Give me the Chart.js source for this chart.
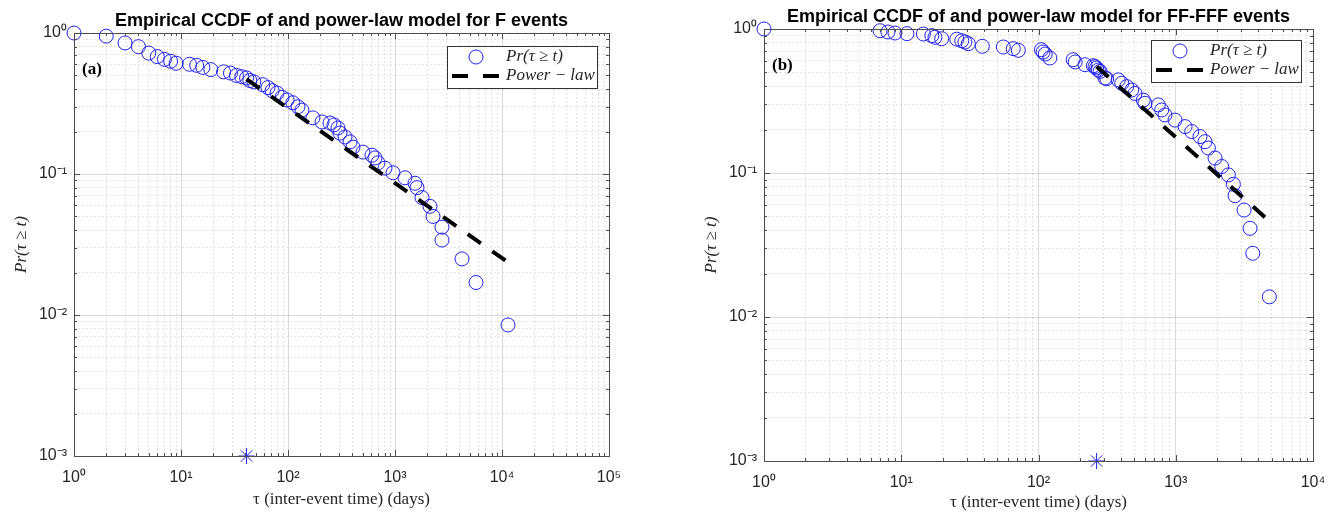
<!DOCTYPE html>
<html lang="en">
<head>
<meta charset="UTF-8">
<title>Empirical CCDF and power-law model</title>
<script src="https://cdn.jsdelivr.net/npm/chart.js"></script>
<style>
  body { margin: 0; background: #fff; }
  .panel { position: absolute; top: 0; width: 668px; height: 516px; }
</style>
</head>
<body>
<div class="panel" style="left:0"><canvas id="chartF" width="668" height="516"></canvas></div>
<div class="panel" style="left:668px"><canvas id="chartFF" width="668" height="516"></canvas></div>
<script>
// (a) F events: inter-event time (days) and empirical CCDF
const fTau  = [1, 2, 3, 4, 5, 6, 7, 8, 9, 12, 14, 16, 19, 25, 29, 33, 37, 41, 44, 48,
               58, 65, 71, 79, 88, 98, 111, 124, 135, 171, 208, 247, 269, 293, 306, 341, 380, 405,
               502, 609, 650, 693, 806, 958, 1240, 1537, 1606, 1788, 2123, 2265, 2748, 2750,
               4226, 5716, 11370];
const fCcdf = [1.0, 0.95, 0.85, 0.80, 0.72, 0.68, 0.65, 0.63, 0.61, 0.60, 0.59, 0.57, 0.55, 0.53, 0.52, 0.50, 0.49, 0.48, 0.46, 0.45,
               0.43, 0.41, 0.39, 0.375, 0.35, 0.335, 0.32, 0.30, 0.284, 0.25, 0.234, 0.23, 0.223, 0.212, 0.195, 0.183, 0.169, 0.155,
               0.143, 0.136, 0.130, 0.120, 0.110, 0.102, 0.094, 0.086, 0.080, 0.068, 0.059, 0.050, 0.042, 0.034,
               0.025, 0.017, 0.0085];
const fFitTau  = [41, 11070];
const fFitCcdf = [0.47, 0.024];
const fXmin = 41;

// (b) FF-FFF events
const ffTau  = [1, 7, 8, 9, 11, 14.5, 16.7, 17.6, 19.7, 25.4, 27.6, 29.1, 30.8, 39, 55.4, 65.5, 71.3,
                105, 108, 112, 121, 179, 185, 218, 251, 258, 265, 273, 281, 305, 314, 381, 404, 439, 478, 505,
                580, 597, 746, 790, 835, 988, 1169, 1308, 1502, 1634, 1728, 1933, 2163, 2417, 2629, 2704,
                3145, 3478, 3640, 4806];
const ffCcdf = [1.0, 0.973, 0.953, 0.938, 0.928, 0.923, 0.899, 0.876, 0.856, 0.85, 0.829, 0.812, 0.791, 0.758, 0.750, 0.730, 0.711,
                0.718, 0.692, 0.670, 0.629, 0.612, 0.590, 0.565, 0.556, 0.547, 0.536, 0.519, 0.508, 0.457, 0.452, 0.443, 0.420, 0.398, 0.377, 0.357,
                0.321, 0.305, 0.297, 0.274, 0.253, 0.233, 0.210, 0.194, 0.179, 0.165, 0.149, 0.127, 0.111, 0.097, 0.0835, 0.0696,
                0.0553, 0.0413, 0.0277, 0.0138];
const ffFitTau  = [265, 4646];
const ffFitCcdf = [0.55, 0.0477];
const ffXmin = 265;

// axis ticks
const xTicksA = [1, 10, 100, 1000, 10000, 100000];
const xTickLabelsA = ['10⁰', '10¹', '10²', '10³', '10⁴', '10⁵'];
const xTicksB = [1, 10, 100, 1000, 10000];
const xTickLabelsB = ['10⁰', '10¹', '10²', '10³', '10⁴'];
const yTicks = [0.001, 0.01, 0.1, 1];
const yTickLabels = ['10⁻³', '10⁻²', '10⁻¹', '10⁰'];

const BLUE = '#1f1ff0';
const TXT = '#262626';

// decade ticks plus 2..9 minor ticks in between
function logTicks(majors) {
    const out = [];
    majors.forEach((v, i) => {
        out.push({ value: v, major: true });
        if (i < majors.length - 1) {
            for (let m = 2; m <= 9; m++) out.push({ value: Number((m * v).toPrecision(3)), major: false });
        }
    });
    return out;
}

// box, inward tick marks, legend and panel letter
const panelDecor = {
    id: 'panelDecor',
    afterDraw(chart, args, opts) {
        const { ctx, chartArea: a, scales } = chart;
        ctx.save();
        ctx.strokeStyle = '#4d4d4d';
        ctx.lineWidth = 1;
        ctx.beginPath();
        scales.x.ticks.forEach(t => {
            const px = Math.round(scales.x.getPixelForValue(t.value)) + 0.5;
            const len = t.major ? 6 : 3;
            ctx.moveTo(px, a.bottom); ctx.lineTo(px, a.bottom - len);
            ctx.moveTo(px, a.top); ctx.lineTo(px, a.top + len);
        });
        scales.y.ticks.forEach(t => {
            const py = Math.round(scales.y.getPixelForValue(t.value)) + 0.5;
            const len = t.major ? 6 : 3;
            ctx.moveTo(a.left, py); ctx.lineTo(a.left + len, py);
            ctx.moveTo(a.right, py); ctx.lineTo(a.right - len, py);
        });
        ctx.stroke();
        ctx.strokeRect(Math.round(a.left) + 0.5, Math.round(a.top) + 0.5, Math.round(a.width), Math.round(a.height));

        // legend
        const bw = 150, bh = 42;
        const bx = Math.round(a.right - 12 - bw), by = Math.round(a.top + opts.legendTop);
        ctx.fillStyle = '#fff';
        ctx.fillRect(bx, by, bw, bh);
        ctx.strokeStyle = '#333';
        ctx.strokeRect(bx + 0.5, by + 0.5, bw, bh);
        ctx.beginPath();
        ctx.arc(bx + 29, by + 11, 7, 0, Math.PI * 2);
        ctx.strokeStyle = BLUE;
        ctx.stroke();
        ctx.beginPath();
        ctx.setLineDash([16, 15]);
        ctx.lineWidth = 4;
        ctx.strokeStyle = '#000';
        ctx.moveTo(bx + 5, by + 30); ctx.lineTo(bx + 53, by + 30);
        ctx.stroke();
        ctx.setLineDash([]);
        ctx.fillStyle = TXT;
        ctx.font = 'italic 17px "Liberation Serif"';
        ctx.textBaseline = 'middle';
        ctx.fillText('Pr(τ ≥ t)', bx + 59, by + 11);
        ctx.fillText('Power − law', bx + 59, by + 30);

        // panel letter
        ctx.font = 'bold 17px "Liberation Serif"';
        ctx.fillStyle = '#000';
        ctx.fillText(opts.letter, a.left + 8, a.top + 37);
        ctx.restore();
    }
};

function makeChart(id, o) {
    const pts = o.tau.map((t, i) => ({ x: t, y: o.ccdf[i] }));
    const fit = o.fitTau.map((t, i) => ({ x: t, y: o.fitCcdf[i] }));
    const gridColor = c => (c.tick && c.tick.major) ? 'rgba(0,0,0,0.15)' : 'rgba(0,0,0,0.11)';
    const gridDash = c => (c.tick && !c.tick.major) ? [2, 2] : [];
    const tickFont = { family: '"Liberation Sans", Arial', size: 16 };

    return new Chart(document.getElementById(id), {
        type: 'scatter',
        data: {
            datasets: [
                {
                    label: 'Power - law',
                    data: fit,
                    showLine: true,
                    borderColor: '#000',
                    borderWidth: 4,
                    borderDash: [16, 14],
                    pointRadius: 0
                },
                {
                    label: 'Pr(τ ≥ t)',
                    data: pts,
                    pointStyle: 'circle',
                    pointRadius: 7,
                    pointHoverRadius: 7,
                    pointBorderWidth: 1,
                    pointBorderColor: BLUE,
                    pointBackgroundColor: 'rgba(0,0,0,0)',
                    clip: false
                },
                {
                    label: 'xmin',
                    data: [{ x: o.xmin, y: 0.001 }],
                    pointStyle: 'star',
                    pointRadius: 8,
                    pointBorderWidth: 1,
                    pointBorderColor: BLUE,
                    clip: false
                }
            ]
        },
        options: {
            responsive: false,
            animation: false,
            events: [],
            layout: { padding: { left: 0, right: o.padRight, top: 0, bottom: 0 } },
            plugins: {
                legend: { display: false },
                tooltip: { enabled: false },
                title: {
                    display: true,
                    fullSize: false,
                    text: o.title,
                    color: '#000',
                    font: { family: '"Liberation Sans", Arial', size: 18, weight: 'bold' },
                    padding: { top: o.titleTop, bottom: o.titleBottom }
                },
                panelDecor: { letter: o.letter, legendTop: o.legendTop }
            },
            scales: {
                x: {
                    type: 'logarithmic',
                    min: o.xTicks[0],
                    max: o.xTicks[o.xTicks.length - 1],
                    afterBuildTicks: s => { s.ticks = logTicks(o.xTicks); },
                    afterFit: s => { s.height = o.xHeight; s.paddingLeft = 0; s.paddingRight = 0; },
                    ticks: {
                        autoSkip: false, maxRotation: 0, padding: 12, color: TXT, font: tickFont,
                        callback: v => { const i = o.xTicks.indexOf(v); return i >= 0 ? o.xLabels[i] : ''; }
                    },
                    grid: { drawTicks: false, color: gridColor },
                    border: { display: false, dash: gridDash },
                    title: {
                        display: true,
                        text: 'τ (inter-event time) (days)',
                        color: TXT,
                        font: { family: '"Liberation Serif"', size: 17 },
                        padding: { top: 0, bottom: o.xTitlePad }
                    }
                },
                y: {
                    type: 'logarithmic',
                    min: 0.001,
                    max: 1,
                    afterBuildTicks: s => { s.ticks = logTicks(yTicks); },
                    afterFit: s => { s.width = o.yWidth; s.paddingTop = 0; s.paddingBottom = 0; },
                    ticks: {
                        autoSkip: false, padding: 7, color: TXT, font: tickFont,
                        callback: v => { const i = yTicks.indexOf(v); return i >= 0 ? yTickLabels[i] : ''; }
                    },
                    grid: { drawTicks: false, color: gridColor },
                    border: { display: false, dash: gridDash },
                    title: {
                        display: true,
                        text: 'Pr(τ ≥ t)',
                        color: TXT,
                        font: { family: '"Liberation Serif"', size: 17, style: 'italic' },
                        padding: { top: o.yTitlePad, bottom: 0 }
                    }
                }
            }
        },
        plugins: [panelDecor]
    });
}

makeChart('chartF', {
    tau: fTau, ccdf: fCcdf, fitTau: fFitTau, fitCcdf: fFitCcdf, xmin: fXmin,
    xTicks: xTicksA, xLabels: xTickLabelsA,
    title: 'Empirical CCDF of and power-law model for F events', letter: '(a)',
    padRight: 59, yWidth: 74, xHeight: 60, titleTop: 10.2, titleBottom: 1.2,
    xTitlePad: 5.8, yTitlePad: 11.8, legendTop: 13
});

makeChart('chartFF', {
    tau: ffTau, ccdf: ffCcdf, fitTau: ffFitTau, fitCcdf: ffFitCcdf, xmin: ffXmin,
    xTicks: xTicksB, xLabels: xTickLabelsB,
    title: 'Empirical CCDF of and power-law model for FF-FFF events', letter: '(b)',
    padRight: 23, yWidth: 96, xHeight: 55, titleTop: 6.2, titleBottom: 1.2,
    xTitlePad: 2.8, yTitlePad: 33.8, legendTop: 11
});
</script>
</body>
</html>
